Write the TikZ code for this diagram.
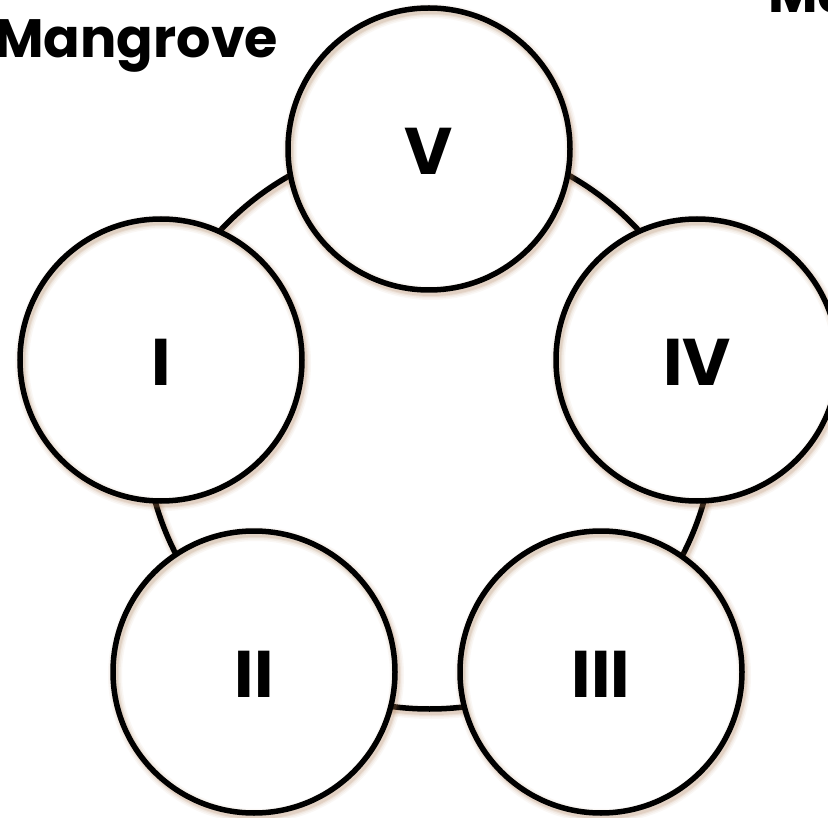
\documentclass[tikz,border=0pt]{standalone}
\usepackage{fontspec}
\newfontfamily\popfont{Poppins}
\begin{document}
\begin{tikzpicture}[x=1pt,y=-1pt,
  ringline/.style={line width=5.5pt, draw=black},
  stage/.style={circle, minimum size=282pt, inner sep=0pt, fill=white},
  numeral/.style={font=\popfont\bfseries\fontsize{66}{66}\selectfont, inner sep=0pt},
  title/.style={font=\popfont\bfseries\fontsize{54}{54}\selectfont, inner sep=0pt}
]
\useasboundingbox (0,0) rectangle (828,818);

% soft brown shadow of a circle outline
\newcommand\ringshadow[2]{%
  \foreach \w/\o in {14/0.06, 11/0.08, 8/0.11, 6/0.14}{
    \draw[line width=\w pt, draw={rgb,255:red,170;green,120;blue,80}, opacity=\o]
      ([shift={(2,3)}]#1) circle[radius=#2];
  }}

% large connecting ring
\coordinate (hub) at (429.5,424);
\ringshadow{hub}{285}
\draw[ringline] (hub) circle[radius=285];

% the five stage circles
\foreach \name/\x/\y/\lab in {v/429/149/V, i/161/360/I, iv/697/360/IV, ii/254/672/II, iii/601/672/III}{
  \node[stage] (\name) at (\x,\y) {};
  \ringshadow{\name.center}{141}
  \draw[ringline] (\name.center) circle[radius=141];
  \node[numeral] (\name-lab) at (\x,\y+2) {\lab};
}

% titles
\node[title, anchor=base west] (mangrove) at (-6,58) {Mangrove};
\node[title, anchor=base west] (mangrove2) at (768,13) {Ma};
\end{tikzpicture}
\end{document}
